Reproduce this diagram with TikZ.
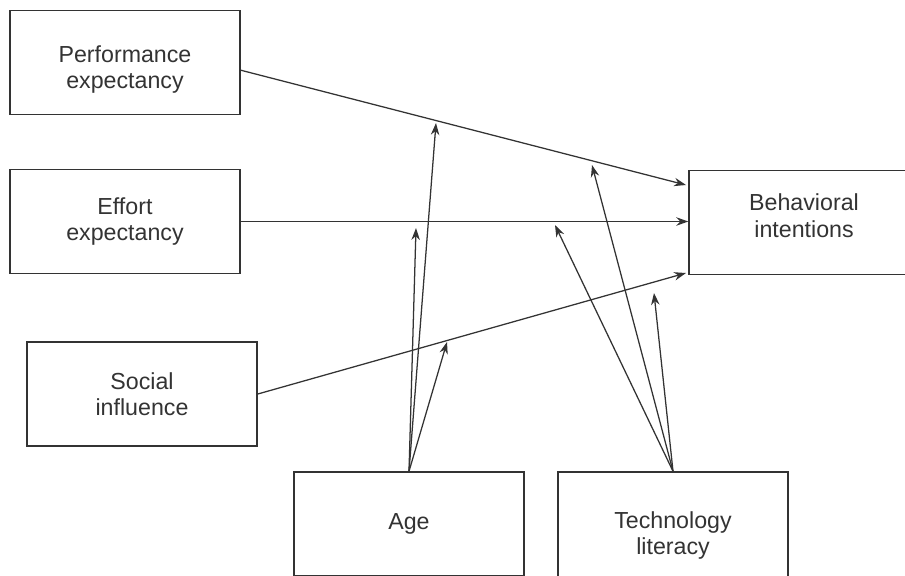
\documentclass[tikz,border=0pt]{standalone}
\usepackage{fontspec}
\setmainfont{Liberation Sans}
\usetikzlibrary{arrows.meta}
\definecolor{inkgray}{HTML}{333333}

\begin{document}
\begin{tikzpicture}[
			x=0.025cm, y=-0.025cm,
			>={Stealth[length=8.5pt,width=6pt]},
			every node/.style = {font=\fontsize{16.5}{18.5}\selectfont, text=inkgray, align=center},
			factor/.style     = {draw=inkgray, line width=1pt, inner sep=0pt,
			                     minimum width=5.75cm, minimum height=2.6cm},
			link/.style       = {draw=inkgray, line width=0.9pt, ->}
			]
			\clip (0,0) rectangle (905,575);
			%--- boxes and their positions ---
			\node[factor, label={[yshift=-0.17cm]center:Performance\\expectancy}] (pe) at (125,62.5) {};
			\node[factor] (ee)  at (125,221.5) {Effort\\expectancy};
			\node[factor] (si)  at (142,394)   {Social\\influence};
			\node[factor, label={[yshift=0.17cm]center:Behavioral\\intentions}] (bi) at (804,222.5) {};
			
			\node[factor] (age) at (409,524)   {Age};
			\node[factor, minimum height=3.15cm] (tl) at (673,535) {Technology\\literacy};
			
			%--- ends of the arrows on the paths ---
			\coordinate (pe-out) at (240,70);
			\coordinate (bi-top) at (686,185);
			\coordinate (bi-low) at (686,273);
			
			\coordinate (a1) at (436,123);
			\coordinate (a2) at (416,228);
			\coordinate (a3) at (447,342);
			
			\coordinate (t1) at (592,165);
			\coordinate (t2) at (555,225);
			\coordinate (t3) at (654,293);
			
			%--- main paths ---
			\draw[link] (pe-out) -- (bi-top);
			\draw[link] (ee.east) -- (ee.east -| bi.west);
			\draw[link] (si.east) -- (bi-low);
			
			%--- moderators ---
			\draw[link] (age.north) -- (a1);
			\draw[link] (age.north) -- (a2);
			\draw[link] (age.north) -- (a3);
			
			\draw[link] (tl.north) -- (t1);
			\draw[link] (tl.north) -- (t2);
			\draw[link] (tl.north) -- (t3);
		\end{tikzpicture}
\end{document}
